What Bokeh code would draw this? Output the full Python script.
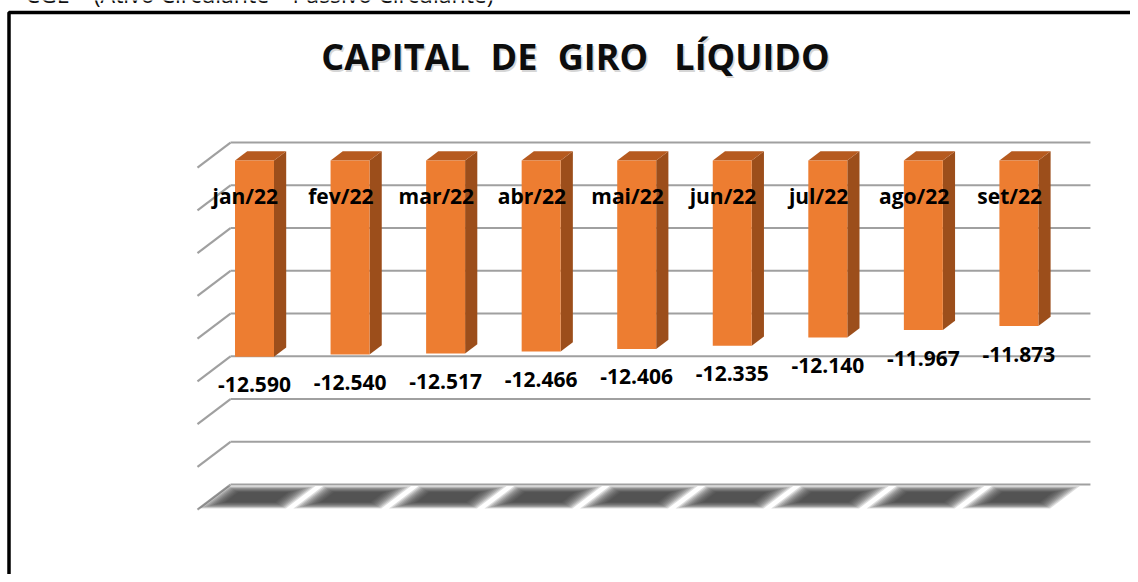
from bokeh.plotting import figure
from bokeh.models import Range1d, Label, BoxAnnotation
from bokeh.embed import file_html
from bokeh.resources import INLINE
from bokeh.core.properties import value

# ---------------- data ----------------
months = ["jan/22", "fev/22", "mar/22", "abr/22", "mai/22",
          "jun/22", "jul/22", "ago/22", "set/22"]
values = [-12590, -12540, -12517, -12466, -12406, -12335, -12140, -11967, -11873]
axis_top = -8000
axis_bottom = -16000
axis_step = 1000
title_words = ["CAPITAL", "DE", "GIRO", "LÍQUIDO"]
note_text = "CGL = (Ativo Circulante – Passivo Circulante)"

# ---------------- pseudo-3D projection parameters ----------------
DX = -0.3454      # x shift (category units) for full depth
DY = -585.0       # y shift (value units) for full depth
D_FRONT, D_BACK = 0.72, 0.35   # bar depth span
HW = 0.204        # half bar width (category units)
n = len(months)


def X(x, d):
    return x + DX * d


def V(v, d):
    return v + DY * d


W, H = 1130, 574
p = figure(width=W, height=H,
           x_range=Range1d(-2.407, -2.407 + W / 95.55),
           y_range=Range1d(-4678 - H / 0.04275, -4678),
           output_backend="svg", toolbar_location=None, min_border=0,
           x_axis_location=None, y_axis_location=None,
           background_fill_color="white", border_fill_color="white",
           outline_line_color=None)
p.xgrid.visible = False
p.ygrid.visible = False

# ---------------- gridlines (back wall + side wall) ----------------
grid_vals = list(range(axis_top, axis_bottom - 1, -axis_step))
p.segment(x0=[0] * len(grid_vals), y0=grid_vals, x1=[n] * len(grid_vals), y1=grid_vals,
          line_color="#a0a0a0", line_width=2.2)
p.segment(x0=[0] * len(grid_vals), y0=grid_vals,
          x1=[X(0, 1)] * len(grid_vals), y1=[V(g, 1) for g in grid_vals],
          line_color="#a0a0a0", line_width=2.2)

# ---------------- floor shadows (blurred) ----------------
centers = [i + 0.5 for i in range(n)]
for k in range(10):
    hw = 0.46 - 0.022 * k
    d0, d1 = 0.06 + 0.028 * k, 0.96 - 0.028 * k
    xs, ys = [], []
    for c in centers:
        cc = c - 0.05
        xs.append([X(cc - hw, d0), X(cc + hw, d0), X(cc + hw, d1), X(cc - hw, d1)])
        ys.append([V(axis_bottom, d0), V(axis_bottom, d0), V(axis_bottom, d1), V(axis_bottom, d1)])
    p.patches(xs=xs, ys=ys, fill_color="#383838", fill_alpha=0.17, line_color=None)

# ---------------- bars ----------------
side_xs, side_ys, top_xs, top_ys = [], [], [], []
for c, v in zip(centers, values):
    side_xs.append([X(c + HW, D_FRONT), X(c + HW, D_BACK), X(c + HW, D_BACK), X(c + HW, D_FRONT)])
    side_ys.append([V(axis_top, D_FRONT), V(axis_top, D_BACK), V(v, D_BACK), V(v, D_FRONT)])
    top_xs.append([X(c - HW, D_FRONT), X(c + HW, D_FRONT), X(c + HW, D_BACK), X(c - HW, D_BACK)])
    top_ys.append([V(axis_top, D_FRONT), V(axis_top, D_FRONT), V(axis_top, D_BACK), V(axis_top, D_BACK)])

p.patches(xs=side_xs, ys=side_ys, fill_color="#9c4e1b", line_color=None)
p.patches(xs=top_xs, ys=top_ys, fill_color="#b65a1f", line_color=None)
p.quad(left=[X(c - HW, D_FRONT) for c in centers],
       right=[X(c + HW, D_FRONT) for c in centers],
       top=[V(axis_top, D_FRONT)] * n,
       bottom=[V(v, D_FRONT) for v in values],
       fill_color="#ED7D31", line_color=None)

# ---------------- labels ----------------
label_txt = [f"{v:,}".replace(",", ".") for v in values]
p.text(x=[X(c, D_FRONT) for c in centers],
       y=[V(v, D_FRONT) - 655 for v in values],
       text=label_txt, text_align="center", text_baseline="middle",
       text_font=value("Open Sans"), text_font_style="bold",
       text_font_size="21px", text_color="black")

p.text(x=[X(c, 1.0) for c in centers],
       y=[axis_top - 1240] * n,
       text=months, text_align="center", text_baseline="middle",
       text_font=value("Open Sans"), text_font_style="bold",
       text_font_size="21px", text_color="black")

# ---------------- title (word by word, Excel-like spacing), note and frame ----------------
word_x = [395, 513.5, 602.5, 751.5]
for wx, word in zip(word_x, title_words):
    p.add_layout(Label(x=wx + 1.5, y=H - 57.5, x_units="screen", y_units="screen",
                       text=word, text_align="center", text_baseline="alphabetic",
                       text_font="Open Sans", text_font_style="bold",
                       text_font_size="36px", text_color="#d6d6d6"))
    p.add_layout(Label(x=wx, y=H - 56, x_units="screen", y_units="screen",
                       text=word, text_align="center", text_baseline="alphabetic",
                       text_font="Open Sans", text_font_style="bold",
                       text_font_size="36px", text_color="#0d0d0d"))
p.add_layout(Label(x=25, y=H + 6.5, x_units="screen", y_units="screen",
                   text=note_text, text_align="left", text_baseline="alphabetic",
                   text_font="Open Sans", text_font_size="23px", text_color="#111111"))
p.add_layout(BoxAnnotation(left=8.5, right=W + 40, top=H - 12, bottom=-40,
                           left_units="screen", right_units="screen",
                           top_units="screen", bottom_units="screen",
                           fill_alpha=0, line_color="black", line_alpha=1.0,
                           line_width=3.5))

open("out.html", "w").write(file_html(p, INLINE))
